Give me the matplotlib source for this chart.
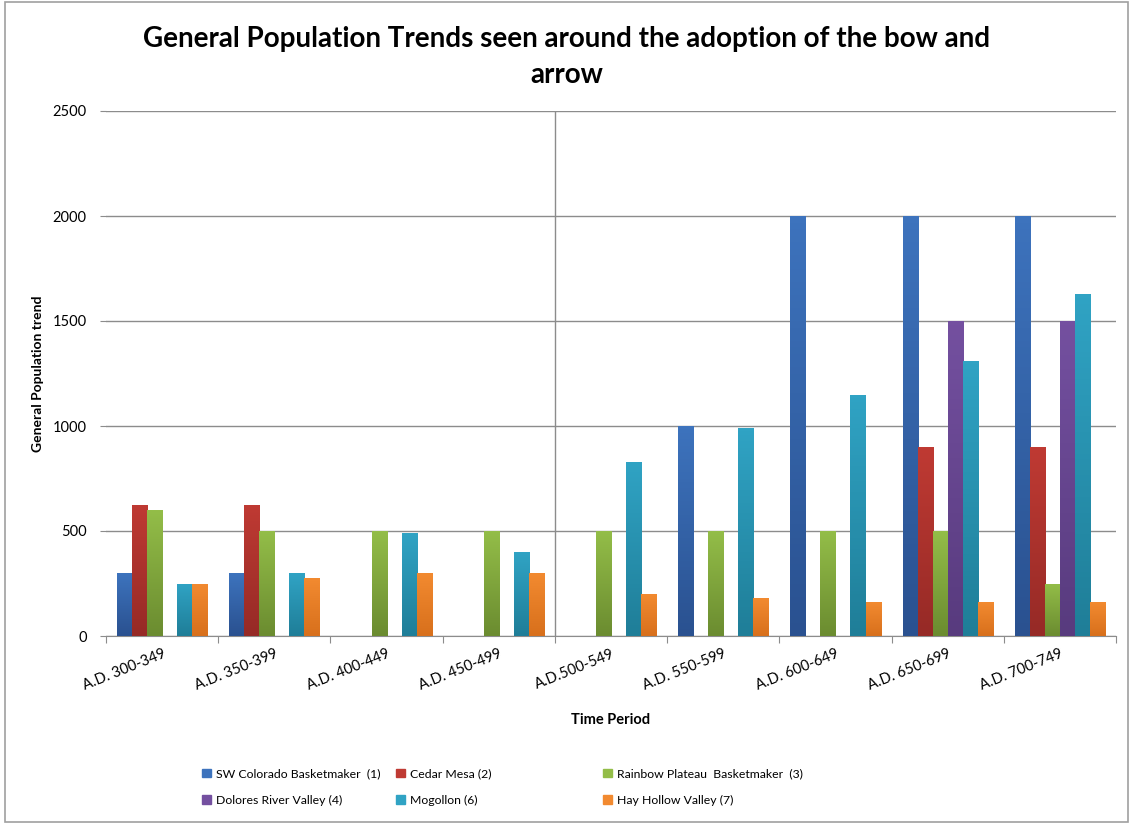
import numpy as np
import matplotlib.pyplot as plt
from matplotlib.colors import LinearSegmentedColormap
from matplotlib.patches import Rectangle

# data
periods = ['A.D. 300-349', 'A.D. 350-399', 'A.D. 400-449', 'A.D. 450-499',
           'A.D.500-549', 'A.D. 550-599', 'A.D. 600-649', 'A.D. 650-699', 'A.D. 700-749']
series_names = ['SW Colorado Basketmaker  (1)', 'Cedar Mesa (2)', 'Rainbow Plateau  Basketmaker  (3)',
                'Dolores River Valley (4)', 'Mogollon (6)', 'Hay Hollow Valley (7)']
sw_colorado = [300, 300, 0, 0, 0, 1000, 2000, 2000, 2000]
cedar_mesa = [625, 625, 0, 0, 0, 0, 0, 900, 900]
rainbow_plateau = [600, 500, 500, 500, 500, 500, 500, 500, 250]
dolores = [0, 0, 0, 0, 0, 0, 0, 1500, 1500]
mogollon = [250, 300, 490, 400, 830, 990, 1150, 1310, 1630]
hay_hollow = [250, 275, 300, 300, 200, 180, 160, 160, 160]
all_series = [sw_colorado, cedar_mesa, rainbow_plateau, dolores, mogollon, hay_hollow]

# (top colour, bottom colour) for the excel-ish gradient
colors = [('#3d73bd', '#2a5190'),
          ('#bf3a33', '#962a26'),
          ('#93bd48', '#6b8c30'),
          ('#7450a0', '#583b7e'),
          ('#30a3c4', '#1f7e98'),
          ('#f28a30', '#d8701c')]

plt.rcParams['font.family'] = ['Lato', 'DejaVu Sans']

fig = plt.figure(figsize=(11.34, 8.24), dpi=100)
ax = fig.add_axes([106 / 1134, 1 - 636 / 824, (1116 - 106) / 1134, (636 - 111) / 824])

n = len(all_series)
width = 0.134
x = np.arange(len(periods))
legend_handles = []
for i, (vals, (ctop, cbot)) in enumerate(zip(all_series, colors)):
    offs = (i - (n - 1) / 2) * width
    bars = ax.bar(x + offs, vals, width, color=ctop, edgecolor='none', zorder=2)
    legend_handles.append(Rectangle((0, 0), 1, 1, color=ctop))
    cmap = LinearSegmentedColormap.from_list('g%d' % i, [cbot, ctop])
    grad = np.linspace(0, 1, 64).reshape(-1, 1)
    for b in bars:
        h = b.get_height()
        if h <= 0:
            continue
        x0 = b.get_x()
        im = ax.imshow(grad, cmap=cmap, origin='lower', aspect='auto',
                       extent=[x0, x0 + b.get_width(), 0, h], zorder=3)
        im.set_clip_path(b)

ax.set_xlim(-0.5, len(periods) - 0.5)
ax.set_ylim(0, 2500)
ax.set_yticks(range(0, 2501, 500))
ax.yaxis.grid(True, color='#8c8c8c', linewidth=1.0, zorder=0)
ax.set_axisbelow(True)

# vertical divider between A.D. 450-499 and A.D.500-549
ax.axvline(3.5, color='#8c8c8c', linewidth=1.0, zorder=1)

for s in ['top', 'right', 'left']:
    ax.spines[s].set_visible(False)
ax.spines['bottom'].set_color('#8c8c8c')

ax.set_xticks(np.arange(-0.5, len(periods), 1.0), minor=False)
ax.set_xticklabels([])
ax.tick_params(axis='x', which='major', length=5, color='#8c8c8c')
ax.set_xticks(x, minor=True)
ax.set_xticklabels(periods, minor=True, rotation=22, ha='right', rotation_mode='anchor', fontsize=10.5)
ax.tick_params(axis='x', which='minor', length=0, pad=8)
ax.tick_params(axis='y', length=4, color='#8c8c8c', labelsize=10.5, pad=10)

ax.set_ylabel('General Population trend', fontsize=10, fontweight='bold', labelpad=6)
ax.set_xlabel('Time Period', fontsize=10.5, fontweight='bold', labelpad=14)

fig.text(0.5, 0.968, 'General Population Trends seen around the adoption of the bow and\narrow',
         ha='center', va='top', fontsize=20, fontweight='bold', linespacing=1.45)

# legend: three columns placed like the original
col_x = [202 / 1134, 396 / 1134, 603 / 1134]
for c in range(3):
    ks = [c, c + 3]
    lg = fig.legend([legend_handles[k] for k in ks], [series_names[k] for k in ks],
                    loc='center left', bbox_to_anchor=(col_x[c], 0.045), frameon=False,
                    fontsize=8.8, handlelength=0.75, handleheight=0.75, handletextpad=0.4,
                    labelspacing=1.25, borderpad=0, borderaxespad=0)

fig.patches.append(Rectangle((0.004, 0.002), 0.991, 0.995, transform=fig.transFigure,
                             fill=False, edgecolor='#a0a0a0', linewidth=1.2))

fig.savefig('out.png', dpi=100)
